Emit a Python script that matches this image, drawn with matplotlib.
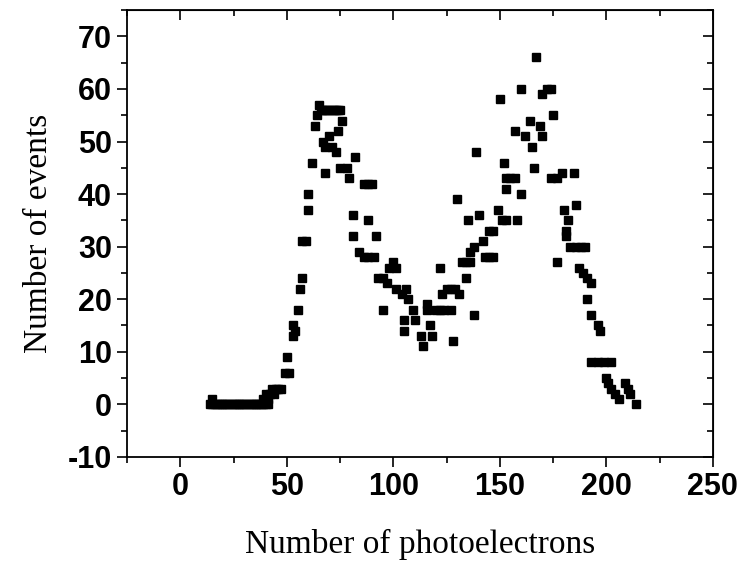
import numpy as np
import matplotlib
matplotlib.use("Agg")
import matplotlib.pyplot as plt
from matplotlib.ticker import MultipleLocator

plt.rcParams["axes.unicode_minus"] = False

# flat baseline, then the two peaks
base_x = list(range(14, 42))
base_y = [0] * len(base_x)

peak_x = [15, 39, 40, 41, 42, 43, 44, 45, 46, 47,
          49, 50, 51, 53, 53, 54, 55, 56, 57,
          57, 59, 60, 60, 62,
          63, 64, 65, 66, 67, 68, 69, 70, 71, 72, 73, 74, 75, 76,
          74, 70, 67, 68, 71, 73, 68, 75, 78, 82, 79, 86, 88, 90,
          81, 88, 81, 92, 84, 86, 88, 91,
          93, 95, 97, 95, 98, 100, 101, 101, 104, 106, 107, 105, 105,
          109, 110, 113, 114, 116, 116, 117, 118,
          122, 120, 122, 124, 127, 123, 125, 127, 129, 131, 128,
          130, 132, 134, 136, 134, 136, 138, 135, 140, 138, 139,
          142, 143, 145, 147, 145, 147, 149, 151, 153, 158,
          150, 152, 153, 153, 155, 157, 160, 157, 160, 162, 164, 165, 166,
          167, 169, 170, 170, 172, 174, 175, 174, 177, 179, 185,
          177, 180, 182, 181, 181, 186, 183, 186, 188, 190,
          187, 189, 191, 193, 191, 193, 196, 197,
          193, 196, 199, 202, 200, 201, 202, 204, 206, 209, 210, 211, 214]
peak_y = [1, 1, 2, 1, 2, 3, 2, 3, 3, 3,
          6, 9, 6, 15, 13, 14, 18, 22, 24,
          31, 31, 37, 40, 46,
          53, 55, 57, 56, 56, 56, 56, 56, 56, 56, 56, 56, 56, 54,
          52, 51, 50, 49, 49, 48, 44, 45, 45, 47, 43, 42, 42, 42,
          36, 35, 32, 32, 29, 28, 28, 28,
          24, 24, 23, 18, 26, 27, 26, 22, 21, 22, 20, 16, 14,
          18, 16, 13, 11, 19, 18, 15, 13,
          26, 18, 18, 18, 18, 21, 22, 22, 22, 21, 12,
          39, 27, 27, 27, 24, 29, 30, 35, 36, 17, 48,
          31, 28, 28, 28, 33, 33, 37, 35, 35, 35,
          58, 46, 43, 41, 43, 43, 40, 52, 60, 51, 54, 49, 45,
          66, 53, 51, 59, 60, 60, 55, 43, 43, 44, 44,
          27, 37, 35, 33, 32, 38, 30, 30, 30, 30,
          26, 25, 24, 23, 20, 17, 15, 14,
          8, 8, 8, 8, 5, 4, 3, 2, 1, 4, 3, 2, 0]

x = base_x + peak_x
y = base_y + peak_y

fig = plt.figure(figsize=(7.44, 5.64), dpi=100)
ax = fig.add_axes([0.171, 0.19, 0.787, 0.792])

ax.plot(x, y, linestyle="none", marker="s", color="black", markersize=5.8)

ax.set_xlim(-25, 250)
ax.set_ylim(-10, 75)
ax.xaxis.set_major_locator(MultipleLocator(50))
ax.xaxis.set_minor_locator(MultipleLocator(25))
ax.yaxis.set_major_locator(MultipleLocator(10))
ax.yaxis.set_minor_locator(MultipleLocator(5))
ax.tick_params(which="major", direction="out", length=7, width=1.2, pad=4)
ax.tick_params(which="minor", direction="out", length=4, width=1.2)
for lab in ax.get_xticklabels() + ax.get_yticklabels():
    lab.set_fontfamily(["Liberation Sans Narrow", "Liberation Sans"])
    lab.set_fontweight("bold")
    lab.set_fontsize(22)
for sp in ax.spines.values():
    sp.set_linewidth(1.3)

# mirrored ticks on top and right, pointing inward
top = ax.secondary_xaxis("top")
top.xaxis.set_major_locator(MultipleLocator(50))
top.xaxis.set_minor_locator(MultipleLocator(25))
top.tick_params(which="major", direction="in", length=7, width=1.2, labeltop=False)
top.tick_params(which="minor", direction="in", length=4, width=1.2)
right = ax.secondary_yaxis("right")
right.yaxis.set_major_locator(MultipleLocator(10))
right.yaxis.set_minor_locator(MultipleLocator(5))
right.tick_params(which="major", direction="in", length=7, width=1.2, labelright=False)
right.tick_params(which="minor", direction="in", length=4, width=1.2)

ax.set_xlabel("Number of photoelectrons", fontfamily="Liberation Serif",
              fontsize=24, labelpad=19)
ax.set_ylabel("Number of events", fontfamily="Liberation Serif",
              fontsize=24, labelpad=10)

fig.savefig("out.png", dpi=100)
